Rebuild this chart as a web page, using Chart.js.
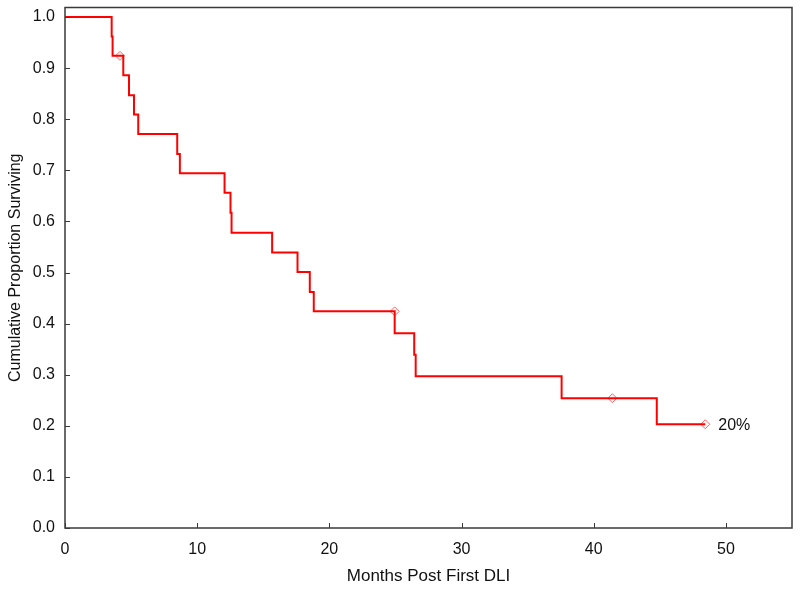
<!DOCTYPE html>
<html lang="en">
  <head>
    <meta charset="UTF-8" />
    <title>Cumulative Proportion Surviving</title>
    <style>
      html,
      body {
        margin: 0;
        padding: 0;
        background: #ffffff;
      }
      #wrap {
        width: 800px;
        height: 589px;
      }
    </style>
  </head>
  <body>
    <div id="wrap"><canvas id="kmChart" width="800" height="589"></canvas></div>

    <script src="https://cdn.jsdelivr.net/npm/chart.js"></script>
    <script>
      // step curve: time (months) and survival after each event
      const eventMonths = [0, 3.53, 3.6, 4.41, 4.84, 5.22, 5.54, 8.49, 8.69, 12.07, 12.52, 12.6, 15.67, 17.59, 18.52, 18.82, 24.94, 26.42, 26.53, 37.57, 44.77, 48.44];
      const survival = [1.0, 0.962, 0.924, 0.886, 0.847, 0.809, 0.771, 0.732, 0.694, 0.656, 0.617, 0.578, 0.539, 0.501, 0.462, 0.424, 0.381, 0.339, 0.297, 0.254, 0.203, 0.203];

      // censored observations
      const censorMonths = [4.16, 24.94, 41.41, 48.44];
      const censorSurvival = [0.924, 0.424, 0.254, 0.203];

      const xTicks = [0, 10, 20, 30, 40, 50];
      const yTicks = [0, 0.1, 0.2, 0.3, 0.4, 0.5, 0.6, 0.7, 0.8, 0.9, 1.0];
      const endLabel = "20%";

      const FONT = "'Liberation Sans', Arial, sans-serif";

      const stepData = eventMonths.map((m, i) => ({ x: m, y: survival[i] }));
      const censorData = censorMonths.map((m, i) => ({ x: m, y: censorSurvival[i] }));

      // frame + inward ticks + end label
      const framePlugin = {
        id: "frame",
        afterDraw(chart) {
          const { ctx, chartArea: a, scales } = chart;
          ctx.save();
          ctx.strokeStyle = "#3a3a3a";
          ctx.lineWidth = 1.5;
          ctx.strokeRect(a.left, a.top, a.right - a.left, a.bottom - a.top);

          ctx.lineWidth = 1;
          ctx.beginPath();
          xTicks.forEach((v) => {
            const px = Math.round(scales.x.getPixelForValue(v)) + 0.5;
            ctx.moveTo(px, a.bottom);
            ctx.lineTo(px, a.bottom - 5);
          });
          yTicks.forEach((v) => {
            const py = Math.round(scales.y.getPixelForValue(v)) + 0.5;
            ctx.moveTo(a.left, py);
            ctx.lineTo(a.left + 5, py);
          });
          ctx.stroke();

          const last = censorData[censorData.length - 1];
          ctx.fillStyle = "#111111";
          ctx.font = "16px " + FONT;
          ctx.textBaseline = "middle";
          ctx.textAlign = "left";
          ctx.fillText(endLabel, scales.x.getPixelForValue(last.x) + 13, scales.y.getPixelForValue(last.y) + 1);
          ctx.restore();
        },
      };

      new Chart(document.getElementById("kmChart"), {
        type: "scatter",
        data: {
          datasets: [
            {
              label: "Survival",
              data: stepData,
              showLine: true,
              stepped: "before",
              borderColor: "#ff0000",
              borderWidth: 2,
              pointRadius: 0,
              fill: false,
            },
            {
              label: "Censored",
              data: censorData,
              showLine: false,
              pointStyle: "rectRot",
              pointRadius: 4.5,
              borderColor: "#f26b6b",
              backgroundColor: "#fff4f4",
              borderWidth: 1,
            },
          ],
        },
        plugins: [framePlugin],
        options: {
          responsive: false,
          animation: false,
          layout: { padding: { top: 7.5, right: 8, left: 0, bottom: 0 } },
          plugins: {
            legend: { display: false },
            tooltip: { enabled: false },
          },
          scales: {
            x: {
              type: "linear",
              min: 0,
              max: 55,
              afterBuildTicks(scale) {
                scale.ticks = xTicks.map((v) => ({ value: v }));
              },
              afterFit(scale) {
                scale.height = 61;
                scale.paddingLeft = 0;
                scale.paddingRight = 0;
              },
              grid: { display: false, drawTicks: false },
              border: { display: false },
              ticks: {
                color: "#111111",
                font: { family: FONT, size: 16 },
                padding: 12,
                maxRotation: 0,
              },
              title: {
                display: true,
                text: "Months Post First DLI",
                color: "#111111",
                font: { family: FONT, size: 17 },
                padding: { top: 4, bottom: 2 },
              },
            },
            y: {
              type: "linear",
              min: 0,
              max: 1.0186,
              afterBuildTicks(scale) {
                scale.ticks = yTicks.map((v) => ({ value: v }));
              },
              afterFit(scale) {
                scale.width = 65;
                scale.paddingTop = 0;
                scale.paddingBottom = 0;
              },
              grid: { display: false, drawTicks: false },
              border: { display: false },
              ticks: {
                color: "#111111",
                font: { family: FONT, size: 16 },
                padding: 10,
                callback: (v) => v.toFixed(1),
              },
              title: {
                display: true,
                text: "Cumulative Proportion Surviving",
                color: "#111111",
                font: { family: FONT, size: 16 },
                padding: { top: 6, bottom: 0 },
              },
            },
          },
        },
      });
    </script>
  </body>
</html>
